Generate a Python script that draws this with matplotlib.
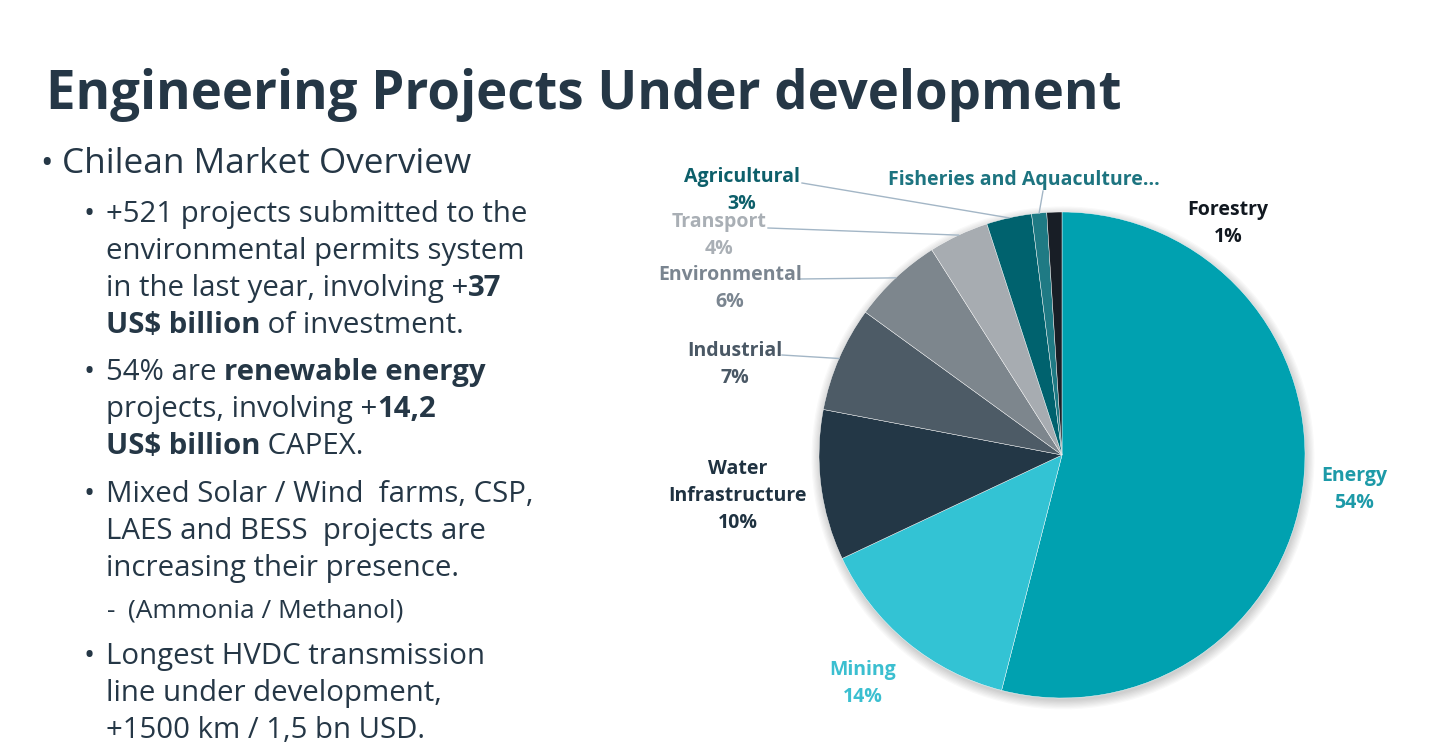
import matplotlib
matplotlib.use("Agg")
import matplotlib.pyplot as plt
from matplotlib.patches import Circle
import numpy as np

# pie data
categories = ["Energy", "Mining", "Water\nInfrastructure", "Industrial", "Environmental",
              "Transport", "Agricultural", "Fisheries and Aquaculture...", "Forestry"]
shares = [54, 14, 10, 7, 6, 4, 3, 1, 1]
show_pct = [True, True, True, True, True, True, True, False, True]
slice_colors = ["#00A1B0", "#33C3D4", "#233746", "#4D5B66", "#7D868D",
                "#A7ACB1", "#00626E", "#1F7A84", "#181E26"]
label_colors = ["#1D9AA8", "#3BBFD0", "#1F3241", "#4A5865", "#7A8590",
                "#A9AFB5", "#0D5F6A", "#1D7480", "#111820"]

# label anchor (center of first line, in px) and leader line start
label_pos = [(1354, 476), (863, 670), (738, 469), (735, 351), (730, 275),
             (719, 222), (742, 177), (1024, 180), (1228, 210)]
leader_start = [None, None, None, (782, 355), (800, 279),
                (768, 228), (802, 183), (1043, 191), None]

# slide text
title = "Engineering Projects Under development"
heading = "Chilean Market Overview"
bullets = [
    [[("+521 projects submitted to the", False)],
     [("environmental permits system", False)],
     [("in the last year, involving +", False), ("37", True)],
     [("US$ billion", True), (" of investment.", False)]],
    [[("54% are ", False), ("renewable energy", True)],
     [("projects, involving +", False), ("14,2", True)],
     [("US$ billion", True), (" CAPEX.", False)]],
    [[("Mixed Solar / Wind  farms, CSP,", False)],
     [("LAES and BESS  projects are", False)],
     [("increasing their presence.", False)]],
    [[("Longest HVDC transmission", False)],
     [("line under development,", False)],
     [("+1500 km / 1,5 bn USD.", False)]],
]
sub_note = "(Ammonia / Methanol)"

W, H = 1433, 753
FONT = ["Open Sans", "DejaVu Sans"]
TXT = "#253746"

fig = plt.figure(figsize=(W / 100, H / 100), dpi=100)
fig.patch.set_facecolor("white")
renderer = fig.canvas.get_renderer()


def fx(x, y):
    return x / W, 1 - y / H


def text_width(s, size, bold):
    # measure with a guard char so trailing spaces count
    t = fig.text(0, 0, s + "|", fontsize=size, family=FONT,
                 fontweight="bold" if bold else "normal")
    g = fig.text(0, 0, "|", fontsize=size, family=FONT,
                 fontweight="bold" if bold else "normal")
    w = t.get_window_extent(renderer).width - g.get_window_extent(renderer).width
    t.remove()
    g.remove()
    return w


def draw_runs(x, y, runs, size):
    for s, bold in runs:
        fig.text(*fx(x, y), s, fontsize=size, family=FONT, color=TXT,
                 fontweight="bold" if bold else "normal", va="baseline", ha="left")
        x += text_width(s, size, bold)


# title
fig.text(*fx(46, 109), title, fontsize=38, family=FONT, fontweight="bold",
         color=TXT, va="baseline", ha="left")

# heading bullet
fig.text(*fx(40, 173), "\u2022", fontsize=24, family=FONT, color=TXT, va="baseline")
fig.text(*fx(62, 173), heading, fontsize=25.3, family=FONT, color=TXT, va="baseline")

# sub bullets
SUB = 21.2
baselines = [[222, 259, 296, 333], [380, 417, 454], [502, 539, 576], [664, 701, 738]]
for lines, ys in zip(bullets, baselines):
    fig.text(*fx(84, ys[0]), "\u2022", fontsize=SUB, family=FONT, color=TXT, va="baseline")
    for runs, y in zip(lines, ys):
        draw_runs(106, y, runs, SUB)
fig.text(*fx(107, 618), "-", fontsize=19, family=FONT, color=TXT, va="baseline")
fig.text(*fx(128, 618), sub_note, fontsize=19, family=FONT, color=TXT, va="baseline")

# pie
cx, cy, R = 1062, 455, 243
ax = fig.add_axes([(cx - R) / W, (H - cy - R) / H, 2 * R / W, 2 * R / H])

# soft shadow under the pie
for r in np.linspace(1.0, 1.035, 8):
    ax.add_patch(Circle((0.004, -0.012), r, color="black", alpha=0.025, lw=0,
                        zorder=0, clip_on=False))

wedges, _ = ax.pie(shares, colors=slice_colors, startangle=90, counterclock=False,
                   radius=1, wedgeprops=dict(edgecolor="white", linewidth=0.3))
ax.set_xlim(-1, 1)
ax.set_ylim(-1, 1)
ax.axis("off")

LBL = 14
for name, v, pct, col, (lx, ly), start, w in zip(categories, shares, show_pct, label_colors,
                                                 label_pos, leader_start, wedges):
    lines = name.split("\n") + ([f"{v}%"] if pct else [])
    for k, s in enumerate(lines):
        fig.text(*fx(lx, ly + 27 * k), s, fontsize=LBL, family=FONT, fontweight="bold",
                 color=col, ha="center", va="center")
    if start is not None:
        ang = np.deg2rad((w.theta1 + w.theta2) / 2)
        ex, ey = ax.transData.transform((np.cos(ang), np.sin(ang)))
        fig.add_artist(plt.Line2D([start[0] / W, ex / W], [1 - start[1] / H, ey / H],
                                  color="#A3B6C6", lw=1.0, transform=fig.transFigure))

fig.savefig("out.png", dpi=100, facecolor="white")
